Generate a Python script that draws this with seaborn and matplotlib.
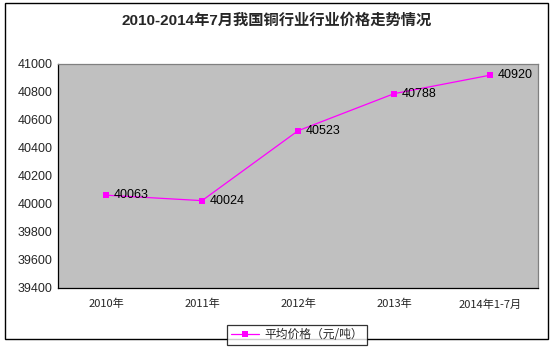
import matplotlib
matplotlib.use("Agg")
import matplotlib.pyplot as plt
import seaborn as sns
import pandas as pd
from matplotlib.patches import Rectangle
from matplotlib.lines import Line2D

categories = ["2010年", "2011年", "2012年", "2013年", "2014年1-7月"]
prices = [40063, 40024, 40523, 40788, 40920]
series_name = "平均价格（元/吨）"
title = "2010-2014年7月我国铜行业行业价格走势情况"
yticks = [39400, 39600, 39800, 40000, 40200, 40400, 40600, 40800, 41000]

sns.set_style("white")
plt.rcParams['font.family'] = ['Liberation Sans', 'Noto Sans CJK SC', 'DejaVu Sans']

df = pd.DataFrame({"pos": range(len(categories)), "price": prices, "series": series_name})

fig = plt.figure(figsize=(5.54, 3.51), dpi=100)
ax = fig.add_axes([58/554, 1-288/351, 480/554, 224/351])
ax.set_facecolor("#C0C0C0")

sns.lineplot(data=df, x="pos", y="price", hue="series", palette=["#FF00FF"],
             marker="s", markersize=5, markeredgewidth=0, linewidth=0.9, ax=ax,
             legend=False)

for x, y in zip(df["pos"], df["price"]):
    ax.text(x + 0.08, y, f"{y}", fontsize=9, va="center", ha="left", color="black",
            family=['Liberation Sans'])

ax.set_xlim(-0.5, len(categories) - 0.5)
ax.set_ylim(39400, 41000)
ax.set_yticks(yticks)
ax.set_yticklabels([str(t) for t in yticks], fontsize=9, family=['Liberation Sans'])
ax.set_xticks(range(len(categories)))
ax.set_xticklabels(categories, fontsize=8, family=['Noto Sans CJK SC', 'DejaVu Sans'])
ax.set_xticks([i + 0.5 for i in range(len(categories) - 1)], minor=True)
ax.tick_params(axis="x", which="major", length=0, pad=8)
ax.tick_params(axis="x", which="minor", length=4, direction="in", color="black", width=0.8)
ax.tick_params(axis="y", length=0, pad=4)
ax.set_xlabel("")
ax.set_ylabel("")
for s in ["left", "bottom"]:
    ax.spines[s].set_color("black")
    ax.spines[s].set_linewidth(0.9)
for s in ["top", "right"]:
    ax.spines[s].set_color("#808080")
    ax.spines[s].set_linewidth(0.9)

fig.text(0.5, 1 - 21/351, title, ha="center", va="center", fontsize=11, fontweight="bold",
         family=['Liberation Sans', 'Noto Sans CJK SC'])

# outer border
fig.patches.append(Rectangle((5/554, 1-339/351), 543/554, 336/351, transform=fig.transFigure,
                             fill=False, edgecolor="black", linewidth=1.0))

# legend
h = Line2D([], [], color="#FF00FF", marker="s", markersize=5, markeredgewidth=0, linewidth=0.9)
leg = fig.legend([h], [series_name], loc="center", bbox_to_anchor=(297/554, 1-335/351),
                 frameon=True, fancybox=False, edgecolor="black",
                 handlelength=2.4, borderpad=0.3, handletextpad=0.5,
                 prop={'family': ['Noto Sans CJK SC', 'DejaVu Sans'], 'size': 8.5})
leg.get_frame().set_linewidth(0.9)

fig.savefig("out.png", dpi=100)
